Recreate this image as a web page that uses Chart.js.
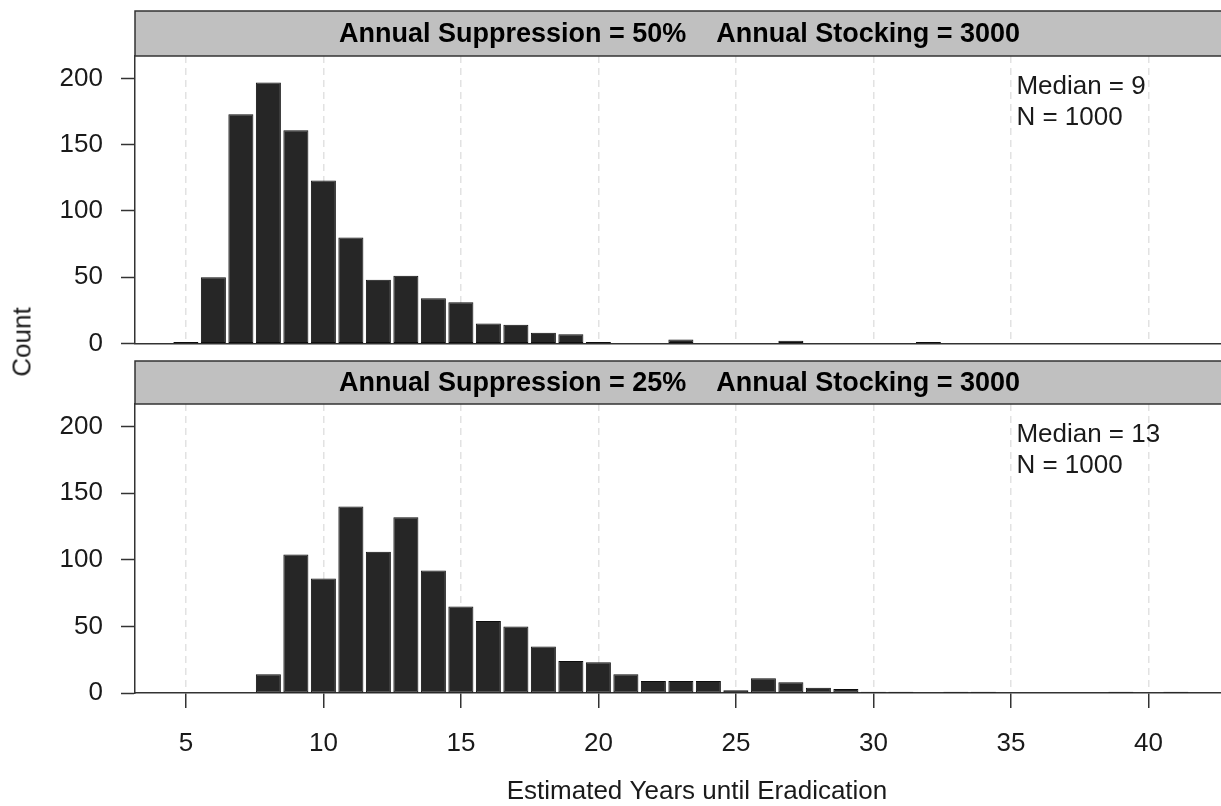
<!DOCTYPE html>
<html lang="en">
<head>
<meta charset="UTF-8">
<title>Estimated Years until Eradication</title>
<script src="https://cdn.jsdelivr.net/npm/chart.js"></script>
<style>
  html, body { margin: 0; padding: 0; background: #fff; overflow: hidden; }
  #wrap { position: relative; width: 1221px; height: 806px; overflow: hidden; }
  canvas { position: absolute; left: 0; }
  #topChart { top: 0; }
  #bottomChart { top: 344px; }
  #countLabel {
    position: absolute; left: 22px; top: 342px;
    transform: translate(-50%, -50%) rotate(-90deg);
    font: 26px "Liberation Sans", Arial, sans-serif; color: #1a1a1a; white-space: nowrap;
  }
</style>
</head>
<body>
<div id="wrap">
  <canvas id="topChart" width="1240" height="377"></canvas>
  <canvas id="bottomChart" width="1240" height="470"></canvas>
  <div id="countLabel">Count</div>
</div>

<script>
// years (bin centres) and counts
const years = [5, 6, 7, 8, 9, 10, 11, 12, 13, 14, 15, 16, 17, 18, 19, 20, 21, 22, 23,
               24, 25, 26, 27, 28, 29, 30, 31, 32, 33, 34, 35, 36, 37, 38, 39, 40, 41];
const countsSupp50 = [1, 50, 173, 197, 161, 123, 80, 48, 51, 34, 31, 15, 14, 8, 7, 1, 0, 0, 3,
                      0, 0, 0, 2, 0, 0, 0, 0, 1, 0, 0, 0, 0, 0, 0, 0, 0, 0];
const countsSupp25 = [0, 0, 0, 14, 104, 86, 140, 106, 132, 92, 65, 54, 50, 35, 24, 23, 14, 9, 9,
                      9, 2, 11, 8, 4, 3, 1, 1, 0, 1, 1, 0, 0, 0, 0, 1, 0, 1];
const xTicks = [5, 10, 15, 20, 25, 30, 35, 40];
const yTicks = [0, 50, 100, 150, 200];
const stripTop = ['Annual Suppression = 50%', 'Annual Stocking = 3000'];
const stripBottom = ['Annual Suppression = 25%', 'Annual Stocking = 3000'];
const notesTop = ['Median = 9', 'N = 1000'];
const notesBottom = ['Median = 13', 'N = 1000'];
const xTitle = 'Estimated Years until Eradication';

const FONT = '"Liberation Sans", Arial, sans-serif';
const INK = '#1a1a1a';
const FS = 26;

// strip header above the panel + median/N note inside it (+ x title on bottom panel)
const panelDecor = {
  id: 'panelDecor',
  afterDraw(chart, args, opts) {
    const { ctx, chartArea: a } = chart;
    ctx.save();
    const h = opts.stripHeight;
    const top = a.top - h;
    ctx.fillStyle = '#c0c0c0';
    ctx.fillRect(a.left, top, chart.width - a.left + 10, h);
    ctx.strokeStyle = '#333';
    ctx.lineWidth = 1.5;
    ctx.strokeRect(a.left, top, chart.width - a.left + 10, h);

    ctx.font = 'bold 27px ' + FONT;
    ctx.fillStyle = '#000';
    ctx.textBaseline = 'middle';
    ctx.textAlign = 'left';
    const gap = 30;
    const w1 = ctx.measureText(opts.strip[0]).width;
    const w2 = ctx.measureText(opts.strip[1]).width;
    let x = (a.left + a.right) / 2 - (w1 + gap + w2) / 2;
    ctx.fillText(opts.strip[0], x, top + h / 2 + 1);
    ctx.fillText(opts.strip[1], x + w1 + gap, top + h / 2 + 1);

    ctx.font = FS + 'px ' + FONT;
    ctx.fillStyle = INK;
    const nx = chart.scales.x.getPixelForValue(35.2);
    ctx.fillText(opts.notes[0], nx, a.top + 31);
    ctx.fillText(opts.notes[1], nx, a.top + 62);

    if (opts.title) {
      ctx.textAlign = 'center';
      ctx.fillText(opts.title, 697, a.bottom + 99);
    }
    ctx.restore();
  }
};

function makePanel(id, counts, strip, notes, bottom) {
  const pts = years.map((y, i) => ({ x: y, y: counts[i] }));
  return new Chart(document.getElementById(id), {
    type: 'bar',
    data: {
      datasets: [{
        data: pts,
        backgroundColor: '#262626',
        borderColor: '#0d0d0d',
        borderWidth: 1,
        borderSkipped: false,
        barPercentage: 1,
        categoryPercentage: 0.91
      }]
    },
    options: {
      responsive: false,
      animation: false,
      events: [],
      layout: { padding: { top: bottom ? 60 : 56, bottom: 0, left: 0, right: 16 } },
      plugins: {
        legend: { display: false },
        tooltip: { enabled: false },
        panelDecor: {
          stripHeight: bottom ? 43 : 45, strip: strip, notes: notes,
          title: bottom ? xTitle : null
        }
      },
      scales: {
        x: {
          type: 'linear',
          min: 3.15,
          max: 42.75,
          offset: false,
          afterBuildTicks: s => { s.ticks = xTicks.map(v => ({ value: v })); },
          afterFit: s => { s.height = bottom ? 121 : 0; },
          grid: {
            offset: false,
            color: '#e2e2e2',
            lineWidth: 1.5,
            drawTicks: bottom,
            tickLength: 15,
            tickColor: '#333',
            tickWidth: 1.5
          },
          border: { display: true, color: '#333', width: 1.5, dash: [7, 5] },
          ticks: {
            display: bottom,
            padding: 20,
            color: INK,
            font: { family: FONT, size: FS },
            callback: v => String(v)
          }
        },
        y: {
          min: 0,
          max: 217,
          afterBuildTicks: s => { s.ticks = yTicks.map(v => ({ value: v })); },
          afterFit: s => { s.width = 135; },
          grid: {
            drawOnChartArea: false,
            drawTicks: true,
            tickLength: 14,
            tickColor: '#333',
            tickWidth: 1.5
          },
          border: { display: true, color: '#333', width: 1.5 },
          ticks: {
            padding: 18,
            color: INK,
            font: { family: FONT, size: FS }
          }
        }
      }
    },
    plugins: [panelDecor]
  });
}

makePanel('topChart', countsSupp50, stripTop, notesTop, false);
makePanel('bottomChart', countsSupp25, stripBottom, notesBottom, true);
</script>
</body>
</html>
